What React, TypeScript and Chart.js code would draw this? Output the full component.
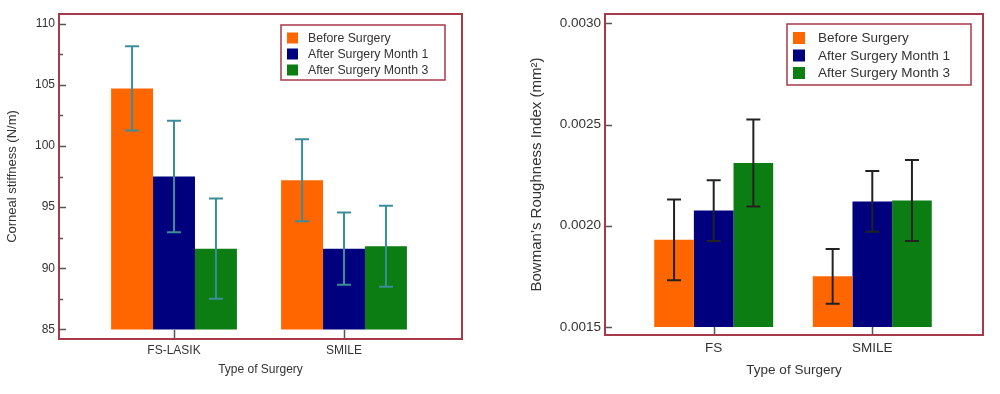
import React, { useEffect, useRef } from 'react';
import { Chart, registerables } from 'chart.js';

Chart.register(...registerables);

// ---------- data ----------
const SERIES_LABELS = ['Before Surgery', 'After Surgery Month 1', 'After Surgery Month 3'];
const SERIES_COLORS = ['#ff6600', '#00007f', '#0b7d12'];

const stiffnessCategories = ['FS-LASIK', 'SMILE'];
const stiffnessBefore = [104.7, 97.2];
const stiffnessMonth1 = [97.5, 91.6];
const stiffnessMonth3 = [91.6, 91.8];
const stiffnessBeforeErr = [3.45, 3.35];
const stiffnessMonth1Err = [4.55, 2.95];
const stiffnessMonth3Err = [4.1, 3.3];
const stiffnessTicks = [85, 90, 95, 100, 105, 110];

const roughnessCategories = ['FS', 'SMILE'];
const roughnessBefore = [0.00193, 0.00175];
const roughnessMonth1 = [0.002075, 0.00212];
const roughnessMonth3 = [0.00231, 0.002125];
const roughnessBeforeErr = [0.0002, 0.000135];
const roughnessMonth1Err = [0.00015, 0.00015];
const roughnessMonth3Err = [0.000215, 0.0002];
const roughnessTicks = [0.0015, 0.002, 0.0025, 0.003];

// ---------- styling ----------
const FONT = "'Liberation Sans', Arial, Helvetica, sans-serif";
const TEXT = '#333333';
const FRAME = '#a63a4a';
const TICK = '#555555';

interface PanelStyle {
  top: number;
  right: number;
  yAxisWidth: number;
  xAxisHeight: number;
  categoryPercentage: number;
  tickFont: number;
  xTickFont: number;
  yTitleFont: number;
  xTitleFont: number;
  legendFont: number;
  yTickPad: number;
  xTickPad: number;
  yTitlePadTop: number;
  xTitlePadBottom: number;
  errColor: string;
  errWidth: number;
  capWidth: number;
  minorTicks: boolean;
  xTickLen: number;
  legendRight: number;
  legendTop: number;
  legendW: number;
  legendH: number;
  legendRow0: number;
  legendRowStep: number;
  swatchX: number;
  swatchSize: number;
  textX: number;
}

interface PanelSpec {
  categories: string[];
  values: number[][];
  errors: number[][];
  ticks: number[];
  decimals: number;
  yTitle: string;
  xTitle: string;
  yMin: number;
  yMax: number;
  xMin: number;
  xMax: number;
  style: PanelStyle;
}

const stiffnessSpec: PanelSpec = {
  categories: stiffnessCategories,
  values: [stiffnessBefore, stiffnessMonth1, stiffnessMonth3],
  errors: [stiffnessBeforeErr, stiffnessMonth1Err, stiffnessMonth3Err],
  ticks: stiffnessTicks,
  decimals: 0,
  yTitle: 'Corneal stiffness (N/m)',
  xTitle: 'Type of Surgery',
  yMin: 84.22,
  yMax: 110.78,
  xMin: 0.3235,
  xMax: 2.694,
  style: {
    top: 14,
    right: 38,
    yAxisWidth: 59,
    xAxisHeight: 55,
    categoryPercentage: 0.74,
    tickFont: 12,
    xTickFont: 12,
    yTitleFont: 13,
    xTitleFont: 12,
    legendFont: 12.3,
    yTickPad: 4,
    xTickPad: 4,
    yTitlePadTop: 5,
    xTitlePadBottom: 17,
    errColor: '#3b8e99',
    errWidth: 2,
    capWidth: 14,
    minorTicks: true,
    xTickLen: 9,
    legendRight: 17,
    legendTop: 11,
    legendW: 164,
    legendH: 55,
    legendRow0: 13,
    legendRowStep: 16,
    swatchX: 6,
    swatchSize: 11,
    textX: 27,
  },
};

const roughnessSpec: PanelSpec = {
  categories: roughnessCategories,
  values: [roughnessBefore, roughnessMonth1, roughnessMonth3],
  errors: [roughnessBeforeErr, roughnessMonth1Err, roughnessMonth3Err],
  ticks: roughnessTicks,
  decimals: 4,
  yTitle: 'Bowman\u2019s Roughness Index (mm\u00B2)',
  xTitle: 'Type of Surgery',
  yMin: 0.00146,
  yMax: 0.003046,
  xMin: 0.3146,
  xMax: 2.698,
  style: {
    top: 14,
    right: 17,
    yAxisWidth: 105,
    xAxisHeight: 59,
    categoryPercentage: 0.75,
    tickFont: 13.5,
    xTickFont: 13.5,
    yTitleFont: 15,
    xTitleFont: 13.5,
    legendFont: 13.5,
    yTickPad: 4,
    xTickPad: 5,
    yTitlePadTop: 28,
    xTitlePadBottom: 16,
    errColor: '#222222',
    errWidth: 2,
    capWidth: 14,
    minorTicks: false,
    xTickLen: 8,
    legendRight: 12,
    legendTop: 10,
    legendW: 184,
    legendH: 61,
    legendRow0: 14,
    legendRowStep: 17.5,
    swatchX: 6,
    swatchSize: 12,
    textX: 31,
  },
};

function buildConfig(spec: PanelSpec): any {
  const s = spec.style;
  const datasets = SERIES_LABELS.map((label, i) => ({
    label,
    data: spec.categories.map((_, j) => ({ x: j + 1, y: spec.values[i][j] })),
    backgroundColor: SERIES_COLORS[i],
    borderWidth: 0,
    base: spec.ticks[0],
    categoryPercentage: s.categoryPercentage,
    barPercentage: 1,
  }));

  const decor = {
    id: 'panelDecor',
    afterDatasetsDraw(chart: any) {
      const ctx = chart.ctx;
      const yScale = chart.scales.y;
      ctx.save();
      ctx.strokeStyle = s.errColor;
      ctx.lineWidth = s.errWidth;
      chart.data.datasets.forEach((_: any, i: number) => {
        const meta = chart.getDatasetMeta(i);
        meta.data.forEach((bar: any, j: number) => {
          const v = spec.values[i][j];
          const e = spec.errors[i][j];
          const x = bar.x;
          const yt = yScale.getPixelForValue(v + e);
          const yb = yScale.getPixelForValue(v - e);
          const h = s.capWidth / 2;
          ctx.beginPath();
          ctx.moveTo(x, yt);
          ctx.lineTo(x, yb);
          ctx.moveTo(x - h, yt);
          ctx.lineTo(x + h, yt);
          ctx.moveTo(x - h, yb);
          ctx.lineTo(x + h, yb);
          ctx.stroke();
        });
      });
      ctx.restore();
    },
    afterDraw(chart: any) {
      const ctx = chart.ctx;
      const ca = chart.chartArea;
      const yScale = chart.scales.y;
      const xScale = chart.scales.x;
      ctx.save();
      // inner tick marks
      ctx.strokeStyle = TICK;
      ctx.lineWidth = 1.5;
      ctx.beginPath();
      spec.ticks.forEach((t, k) => {
        const y = Math.round(yScale.getPixelForValue(t)) + 0.5;
        ctx.moveTo(ca.left, y);
        ctx.lineTo(ca.left + 7, y);
        if (s.minorTicks && k < spec.ticks.length - 1) {
          const ym = Math.round(yScale.getPixelForValue((t + spec.ticks[k + 1]) / 2)) + 0.5;
          ctx.moveTo(ca.left, ym);
          ctx.lineTo(ca.left + 4, ym);
        }
      });
      spec.categories.forEach((_, j) => {
        const x = Math.round(xScale.getPixelForValue(j + 1)) + 0.5;
        ctx.moveTo(x, ca.bottom);
        ctx.lineTo(x, ca.bottom - s.xTickLen);
      });
      ctx.stroke();
      // frame
      ctx.strokeStyle = FRAME;
      ctx.lineWidth = 2;
      ctx.strokeRect(ca.left, ca.top, ca.right - ca.left, ca.bottom - ca.top);
      // legend
      const lx = ca.right - s.legendRight - s.legendW;
      const ly = ca.top + s.legendTop;
      ctx.lineWidth = 1.5;
      ctx.strokeRect(lx, ly, s.legendW, s.legendH);
      ctx.font = `${s.legendFont}px ${FONT}`;
      ctx.textBaseline = 'middle';
      ctx.textAlign = 'left';
      SERIES_LABELS.forEach((label, i) => {
        const cy = ly + s.legendRow0 + i * s.legendRowStep;
        ctx.fillStyle = SERIES_COLORS[i];
        ctx.fillRect(lx + s.swatchX, cy - s.swatchSize / 2, s.swatchSize, s.swatchSize);
        ctx.fillStyle = TEXT;
        ctx.fillText(label, lx + s.textX, cy + 0.5);
      });
      ctx.restore();
    },
  };

  return {
    type: 'bar',
    data: { datasets },
    options: {
      responsive: false,
      animation: false,
      events: [],
      layout: { padding: { top: s.top, right: s.right, left: 0, bottom: 0 } },
      plugins: {
        legend: { display: false },
        tooltip: { enabled: false },
      },
      scales: {
        x: {
          type: 'linear',
          min: spec.xMin,
          max: spec.xMax,
          offset: false,
          grid: { display: false, drawTicks: false, offset: false },
          border: { display: false },
          afterBuildTicks: (scale: any) => {
            scale.ticks = spec.categories.map((_, j) => ({ value: j + 1 }));
          },
          afterFit: (scale: any) => {
            scale.height = s.xAxisHeight;
            scale.paddingLeft = 0;
            scale.paddingRight = 0;
          },
          ticks: {
            autoSkip: false,
            maxRotation: 0,
            padding: s.xTickPad,
            color: TEXT,
            font: { family: FONT, size: s.xTickFont },
            callback: (v: any) => spec.categories[Math.round(Number(v)) - 1] ?? '',
          },
          title: {
            display: true,
            text: spec.xTitle,
            color: TEXT,
            font: { family: FONT, size: s.xTitleFont },
            padding: { top: 0, bottom: s.xTitlePadBottom },
          },
        },
        y: {
          type: 'linear',
          min: spec.yMin,
          max: spec.yMax,
          grid: { display: false, drawTicks: false },
          border: { display: false },
          afterBuildTicks: (scale: any) => {
            scale.ticks = spec.ticks.map((v) => ({ value: v }));
          },
          afterFit: (scale: any) => {
            scale.width = s.yAxisWidth;
            scale.paddingTop = 0;
            scale.paddingBottom = 0;
          },
          ticks: {
            padding: s.yTickPad,
            color: TEXT,
            font: { family: FONT, size: s.tickFont },
            callback: (v: any) => Number(v).toFixed(spec.decimals),
          },
          title: {
            display: true,
            text: spec.yTitle,
            color: TEXT,
            font: { family: FONT, size: s.yTitleFont },
            padding: { top: s.yTitlePadTop, bottom: 0 },
          },
        },
      },
    },
    plugins: [decor],
  };
}

function Panel({ spec, left }: { spec: PanelSpec; left: number }) {
  const ref = useRef<HTMLCanvasElement>(null);
  useEffect(() => {
    if (!ref.current) return;
    const chart = new Chart(ref.current, buildConfig(spec));
    return () => chart.destroy();
  }, [spec]);
  return (
    <canvas
      ref={ref}
      width={500}
      height={394}
      style={{ position: 'absolute', left, top: 0, width: 500, height: 394 }}
    />
  );
}

export default function App() {
  return (
    <div
      style={{
        position: 'absolute',
        left: 0,
        top: 0,
        width: 1000,
        height: 394,
        background: '#ffffff',
        overflow: 'hidden',
      }}
    >
      <Panel spec={stiffnessSpec} left={0} />
      <Panel spec={roughnessSpec} left={500} />
    </div>
  );
}
